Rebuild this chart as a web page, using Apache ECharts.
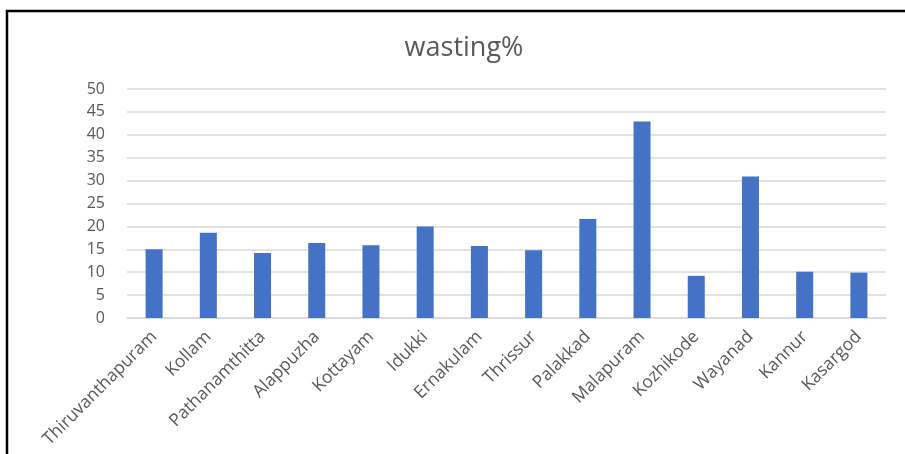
<!DOCTYPE html>
<html>
<head>
<meta charset="utf-8">
<script src="https://cdn.jsdelivr.net/npm/echarts@6/dist/echarts.min.js"></script>
<style>
html,body{margin:0;padding:0;background:#fff;}
#chart{width:905px;height:454px;}
</style>
</head>
<body>
<div id="chart"></div>
<script>
const categories = ["Thiruvanthapuram","Kollam","Pathanamthitta","Alappuzha","Kottayam","Idukki","Ernakulam","Thrissur","Palakkad","Malapuram","Kozhikode","Wayanad","Kannur","Kasargod"];
const wasting = [15, 18.6, 14.2, 16.4, 15.9, 20, 15.7, 14.8, 21.6, 42.9, 9.2, 30.9, 10.1, 9.9];
const chartTitle = "wasting%";

const chart = echarts.init(document.getElementById('chart'));
chart.setOption({
  animation: false,
  backgroundColor: '#fff',
  title: {
    text: chartTitle,
    left: 459, top: 30, textAlign: 'center',
    textStyle: {fontFamily: 'Open Sans', fontSize: 27, fontWeight: 'normal', color: '#595959'}
  },
  graphic: [{
    type: 'polyline',
    shape: {points: [[7, 454], [7, 11], [905, 11]]},
    style: {stroke: '#000', lineWidth: 2.5, fill: null}
  }],
  grid: {left: 127, right: 19, top: 89, bottom: 136, containLabel: false},
  xAxis: {
    type: 'category',
    data: categories,
    axisLine: {lineStyle: {color: '#d9d9d9', width: 1.5}},
    axisTick: {show: false},
    axisLabel: {rotate: 45, interval: 0, color: '#595959', fontSize: 17.5, fontFamily: 'Open Sans', margin: 16}
  },
  yAxis: {
    type: 'value', min: 0, max: 50, interval: 5,
    axisLine: {show: false},
    axisTick: {show: false},
    splitLine: {lineStyle: {color: '#d9d9d9', width: 1.5}},
    axisLabel: {color: '#595959', fontSize: 16, fontFamily: 'Open Sans', margin: 22}
  },
  series: [{
    type: 'bar',
    data: wasting,
    barWidth: 17,
    itemStyle: {color: '#4472C4'}
  }]
});
</script>
</body>
</html>
